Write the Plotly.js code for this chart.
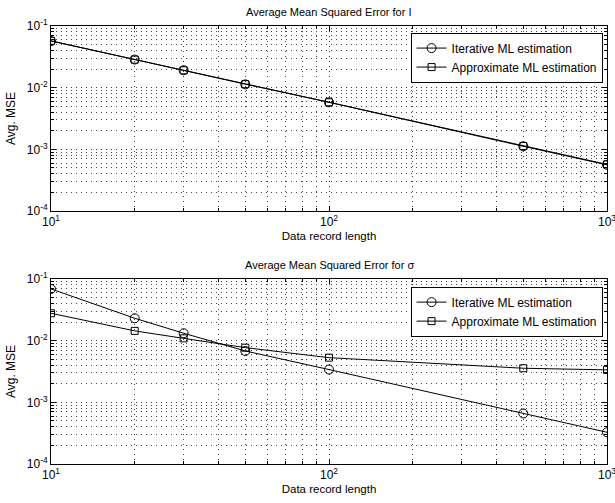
<!DOCTYPE html>
<html>
<head>
<meta charset="utf-8">
<script src="https://cdn.plot.ly/plotly-3.0.1.min.js"></script>
<style>html,body{margin:0;padding:0;background:#fff;}#chart{width:615px;height:503px;}</style>
</head>
<body>
<div id="chart"></div>
<script>
// Data record lengths
const recordLength = [10, 20, 30, 50, 100, 500, 1000];
// Panel 1: Average MSE for I
const mseI_iterative   = [0.057, 0.0286, 0.0192, 0.0113, 0.0058, 0.00112, 0.00056];
const mseI_approximate = [0.0575, 0.0285, 0.0191, 0.0114, 0.0058, 0.00113, 0.00057];
// Panel 2: Average MSE for sigma
const mseS_iterative   = [0.069, 0.0231, 0.0132, 0.0068, 0.0034, 0.00066, 0.000327];
const mseS_approximate = [0.0278, 0.0144, 0.0109, 0.0077, 0.0053, 0.00357, 0.00336];

const seriesNames = ["Iterative ML estimation", "Approximate ML estimation"];
const panelTitles = ["Average Mean Squared Error for I", "Average Mean Squared Error for \u03c3"];
const xTickVals = [10, 100, 1000];
const xTickText = ["10<sup>1</sup>", "10<sup>2</sup>", "10<sup>3</sup>"];
const yTickVals = [1e-4, 1e-3, 1e-2, 1e-1];
const yTickText = ["10<sup>-4</sup>", "10<sup>-3</sup>", "10<sup>-2</sup>", "10<sup>-1</sup>"];
const minorMultipliers = [2, 3, 4, 5, 6, 7, 8, 9];

function minorTicks(decades) {
  const out = [];
  decades.forEach(d => minorMultipliers.forEach(m => out.push(m * d)));
  return out;
}
const xMinor = minorTicks([10, 100]);
const yMinor = minorTicks([1e-4, 1e-3, 1e-2]);

const FONT = "Liberation Sans, Arial, Helvetica, sans-serif";
const lineStyle = {color: "#000", width: 1};
const DOTS = "1px,4px";

function trace(y, name, sym, xa, ya, leg, size) {
  return {
    x: recordLength, y: y, name: name, type: "scatter", mode: "lines+markers",
    xaxis: xa, yaxis: ya, legend: leg,
    line: lineStyle,
    marker: {symbol: sym, size: size, color: "#000", line: {color: "#000", width: 1}}
  };
}

const data = [
  trace(mseI_iterative, seriesNames[0], "circle-open", "x", "y", "legend", 9),
  trace(mseI_approximate, seriesNames[1], "square-open", "x", "y", "legend", 7),
  trace(mseS_iterative, seriesNames[0], "circle-open", "x2", "y2", "legend2", 9),
  trace(mseS_approximate, seriesNames[1], "square-open", "x2", "y2", "legend2", 7)
];

function common(minorVals) {
  return {
    ticks: "inside", ticklen: 5, tickcolor: "#000", mirror: "ticks",
    showline: true, linecolor: "#000", linewidth: 1,
    showgrid: true, gridcolor: "#333", griddash: DOTS, gridwidth: 1,
    zeroline: false,
    ticklabeloverflow: "allow",
    minor: {tickmode: "array", tickvals: minorVals, ticks: "inside", ticklen: 3, tickcolor: "#000",
            showgrid: true, gridcolor: "#444", griddash: DOTS, gridwidth: 1},
    tickfont: {family: FONT, size: 12, color: "#000"}
  };
}
function xAxis(anchor) {
  return Object.assign(common(xMinor), {
    type: "log", range: [1, 3], anchor: anchor,
    tickmode: "array", tickvals: xTickVals, ticktext: xTickText,
    title: {text: "Data record length", font: {family: FONT, size: 11.5, color: "#000"}, standoff: 3}
  });
}
function yAxis(anchor, domain) {
  return Object.assign(common(yMinor), {
    type: "log", range: [-4, -1], anchor: anchor, domain: domain,
    tickmode: "array", tickvals: yTickVals, ticktext: yTickText,
    title: {text: "Avg. MSE", font: {family: FONT, size: 12, color: "#000"}, standoff: 8}
  });
}
function legendBox(yTop) {
  return {
    x: 0.992, xanchor: "right", y: yTop, yanchor: "top",
    xref: "paper", yref: "paper",
    bgcolor: "#fff", bordercolor: "#000", borderwidth: 1,
    font: {family: FONT, size: 12, color: "#000"},
    tracegroupgap: 0, itemwidth: 30
  };
}

const layout = {
  width: 615, height: 503,
  margin: {l: 51, r: 8, t: 26, b: 39},
  paper_bgcolor: "#fff", plot_bgcolor: "#fff",
  showlegend: true,
  xaxis: xAxis("y"),
  yaxis: yAxis("x", [0.5776, 1]),
  xaxis2: xAxis("y2"),
  yaxis2: yAxis("x2", [0, 0.4224]),
  legend: legendBox(0.985),
  legend2: legendBox(0.405),
  annotations: [
    {text: panelTitles[0], xref: "x domain", yref: "y domain", x: 0.5, y: 1, xanchor: "center", yanchor: "bottom", yshift: 6, showarrow: false, font: {family: FONT, size: 11, color: "#000"}},
    {text: panelTitles[1], xref: "x2 domain", yref: "y2 domain", x: 0.5, y: 1, xanchor: "center", yanchor: "bottom", yshift: 6, showarrow: false, font: {family: FONT, size: 11, color: "#000"}}
  ]
};

Plotly.newPlot("chart", data, layout, {displayModeBar: false, staticPlot: true});
</script>
</body>
</html>
